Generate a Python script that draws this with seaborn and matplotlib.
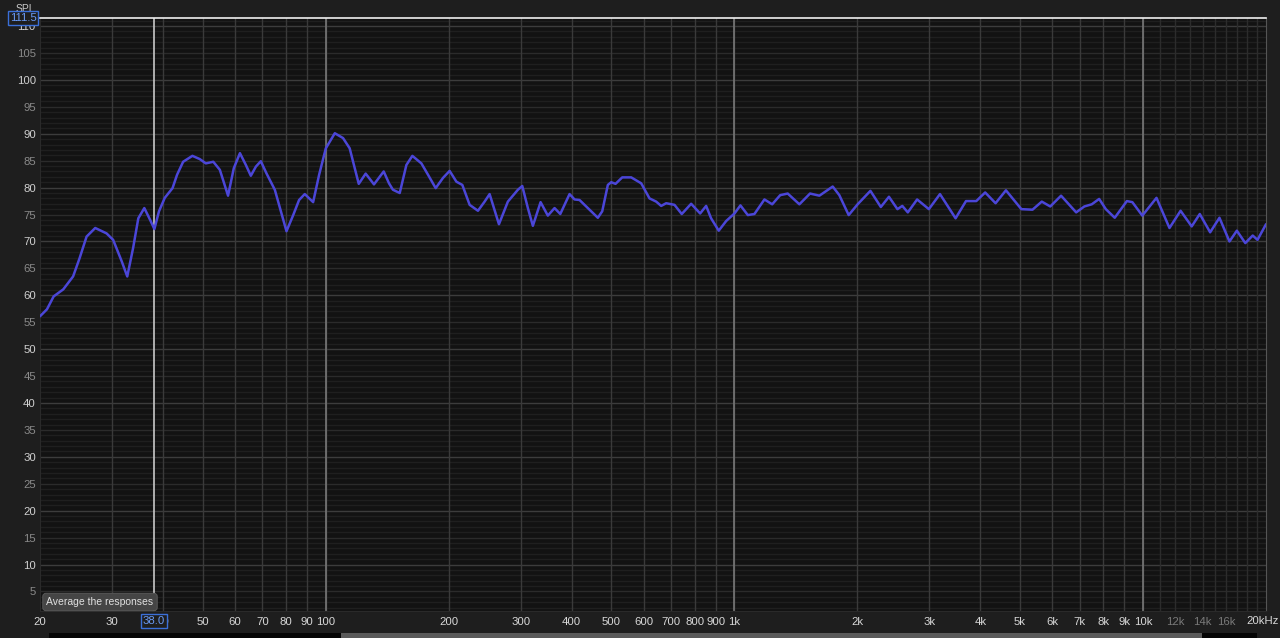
import matplotlib
matplotlib.use("Agg")
import matplotlib.pyplot as plt
import seaborn as sns
import pandas as pd
from matplotlib.patches import Rectangle

# frequency response (Hz, dB SPL)
freq = [20.0, 20.8, 21.6, 22.8, 24.1, 25.0, 26.0, 27.3, 29.1, 30.2, 31.7, 32.7, 33.8, 34.8,
        36.0, 37.2, 38.1, 39.1, 40.4, 42.2, 43.3, 44.8, 47.2, 49.2, 50.9, 53.1, 55.1, 57.7,
        59.6, 61.7, 63.8, 65.6, 67.5, 69.4, 71.7, 75.1, 77.5, 80.2, 83.3, 86.1, 88.9, 93.2,
        96.4, 100.1, 105.3, 110.3, 114.5, 117.8, 120.5, 125.3, 131.3, 138.7, 142.9, 146.1,
        151.8, 157.6, 163.0, 171.5, 178.0, 185.9, 193.7, 201.1, 208.9, 216.0, 225.1, 235.9,
        244.9, 251.9, 258.1, 265.5, 279.2, 295.4, 302.8, 312.5, 321.4, 335.7, 349.7, 363.2,
        375.1, 395.2, 406.5, 418.1, 438.1, 463.5, 475.1, 490.4, 499.8, 512.1, 531.8, 559.4,
        591.8, 620.1, 643.9, 662.3, 681.2, 713.8, 743.7, 784.1, 824.9, 853.2, 877.4, 916.0,
        955.2, 1001, 1035, 1079, 1120, 1185, 1238, 1295, 1351, 1443, 1532, 1615, 1741, 1807,
        1905, 2003, 2153, 2283, 2390, 2507, 2577, 2658, 2801, 2993, 3186, 3479, 3689, 3909,
        4110, 4358, 4620, 5040, 5366, 5654, 5931, 6303, 6863, 7187, 7493, 7812, 8112, 8529,
        9132, 9419, 9964, 10791, 11610, 12360, 13158, 13771, 14601, 15386, 16278, 16970,
        17799, 18557, 19066, 20000]
spl = [56.1, 57.4, 59.8, 61.1, 63.5, 66.9, 70.9, 72.5, 71.5, 70.3, 66.3, 63.5, 68.8, 74.3,
       76.2, 74.0, 72.3, 75.6, 78.1, 79.9, 82.4, 84.8, 85.9, 85.3, 84.5, 84.8, 83.3, 78.5,
       83.6, 86.4, 84.2, 82.2, 83.9, 84.9, 82.6, 79.6, 75.9, 71.9, 74.9, 77.7, 78.8, 77.3,
       82.4, 87.3, 90.1, 89.2, 87.3, 83.6, 80.7, 82.6, 80.6, 83.0, 80.8, 79.6,
       79.0, 84.2, 85.9, 84.5, 82.4, 79.9, 81.8, 83.1, 81.1, 80.5, 76.8, 75.7,
       77.4, 78.8, 76.2, 73.2, 77.4, 79.6, 80.3, 76.2, 72.9, 77.3, 74.8, 76.2,
       75.1, 78.8, 77.8, 77.7, 76.2, 74.4, 75.6, 80.5, 81.0, 80.7, 81.9, 81.9,
       80.8, 78.0, 77.4, 76.6, 77.1, 76.8, 75.1, 77.0, 75.2, 76.6, 74.3, 72.0,
       73.8, 75.2, 76.7, 74.9, 75.1, 77.8, 76.9, 78.6, 78.9, 76.9, 78.9, 78.5, 80.2, 78.6,
       74.9, 76.9, 79.4, 76.4, 78.3, 76.0, 76.6, 75.4, 77.8, 76.0, 78.8, 74.3, 77.5, 77.5,
       79.1, 77.1, 79.5, 76.0, 75.9, 77.4, 76.5, 78.5, 75.4, 76.5, 76.9, 77.9, 76.0, 74.4,
       77.5, 77.3, 74.8, 78.1, 72.5, 75.7, 72.8, 75.1, 71.7, 74.4, 70.0, 72.0,
       69.7, 71.1, 70.3, 73.2]

x_ticks = [20, 30, 40, 50, 60, 70, 80, 90, 100, 200, 300, 400, 500, 600, 700, 800, 900,
           1000, 2000, 3000, 4000, 5000, 6000, 7000, 8000, 9000, 10000, 12000, 14000, 16000, 20000]
x_labels = ["20", "30", "40", "50", "60", "70", "80", "90", "100", "200", "300", "400", "500",
            "600", "700", "800", "900", "1k", "2k", "3k", "4k", "5k", "6k", "7k", "8k", "9k",
            "10k", "12k", "14k", "16k", ""]
hf_lines = [11000, 13000, 15000, 17000, 18000, 19000]
decades = [100, 1000, 10000]
cursor_f = 38.0
y_ticks = list(range(5, 115, 5))

df = pd.DataFrame({"freq": freq, "spl": spl})

sns.set_style("dark")
plt.rcParams["font.family"] = ["Liberation Sans", "DejaVu Sans"]

fig = plt.figure(figsize=(12.8, 6.38), dpi=100, facecolor="#1e1e1e")
ax = fig.add_axes([40 / 1280, 1 - 611 / 638, 1226 / 1280, 593 / 638])
ax.set_facecolor("#121212")
ax.set_xscale("log")
ax.set_xlim(20, 20000)
ax.set_ylim(1.37, 111.5)

# horizontal grid: 1 dB / 5 dB / 10 dB
for v in range(2, 112):
    c = "#3c3c3c" if v % 10 == 0 else ("#2b2b2b" if v % 5 == 0 else "#1f1f1f")
    ax.axhline(v, color=c, lw=1, zorder=0.5)
# vertical grid
for f in x_ticks[1:-1]:
    c = "#2c2c2c" if f > 10000 else "#3a3a3a"
    ax.axvline(f, color=c, lw=1, zorder=0.6)
for f in hf_lines:
    ax.axvline(f, color="#2c2c2c", lw=1, zorder=0.6)
for f in decades:
    ax.axvline(f, color="#777777", lw=1.2, zorder=0.7)
ax.axvline(cursor_f, color="#c8c8c8", lw=1.2, zorder=0.8)

sns.lineplot(data=df, x="freq", y="spl", ax=ax, color="#4b46d8", lw=1.8, zorder=3,
             solid_joinstyle="round", solid_capstyle="round")

ax.set_xticks(x_ticks)
ax.set_xticklabels(x_labels)
ax.xaxis.set_minor_locator(matplotlib.ticker.NullLocator())
ax.set_yticks(y_ticks)
ax.set_yticklabels([str(v) for v in y_ticks])
ax.tick_params(axis="both", length=0, labelsize=8.2)
ax.tick_params(axis="x", pad=4)
ax.tick_params(axis="y", pad=3)
for lab, f in zip(ax.get_xticklabels(), x_ticks):
    lab.set_color("#7a7a7a" if f in (12000, 14000, 16000) else "#d8d8d8")
for lab, v in zip(ax.get_yticklabels(), y_ticks):
    lab.set_color("#d0d0d0" if v % 10 == 0 else "#8a8a8a")
ax.set_xlabel("")
ax.set_ylabel("")

for s in ["left", "bottom"]:
    ax.spines[s].set_color("#2a2a2a")
ax.spines["right"].set_color("#555555")
ax.spines["top"].set_color("#f0f0f0")
ax.spines["top"].set_linewidth(1.2)

fig.text(1279 / 1280, 1 - 621 / 638, "20kHz", color="#d8d8d8", fontsize=8.2, ha="right", va="center")

# header / cursor boxes
fig.text(25 / 1280, 1 - 9 / 638, "SPL", color="#c8c8c8", fontsize=7.5, ha="center", va="center")
fig.text(23 / 1280, 1 - 18 / 638, "111.5", color="#6a9af5", fontsize=8.2, ha="center", va="center",
         bbox=dict(boxstyle="square,pad=0.15", fc="#1e1e1e", ec="#3a6fd8", lw=1))
fig.text(154 / 1280, 1 - 621 / 638, "38.0", color="#6a9af5", fontsize=8.2, ha="center", va="center",
         bbox=dict(boxstyle="square,pad=0.15", fc="#1e1e1e", ec="#3a6fd8", lw=1), zorder=5)
fig.text(100 / 1280, 1 - 602 / 638, "Average the responses", color="#e0e0e0", fontsize=7.5,
         ha="center", va="center",
         bbox=dict(boxstyle="round,pad=0.35,rounding_size=0.3", fc="#454545", ec="#555555", lw=0.8))

# scrollbar
fig.patches.append(Rectangle((49 / 1280, 0), 1208 / 1280, 5 / 638, transform=fig.transFigure,
                             fc="#050505", ec="none"))
fig.patches.append(Rectangle((341 / 1280, 0), 861 / 1280, 5 / 638, transform=fig.transFigure,
                             fc="#5a5a5a", ec="none"))

fig.savefig("out.png", dpi=100, facecolor=fig.get_facecolor())
